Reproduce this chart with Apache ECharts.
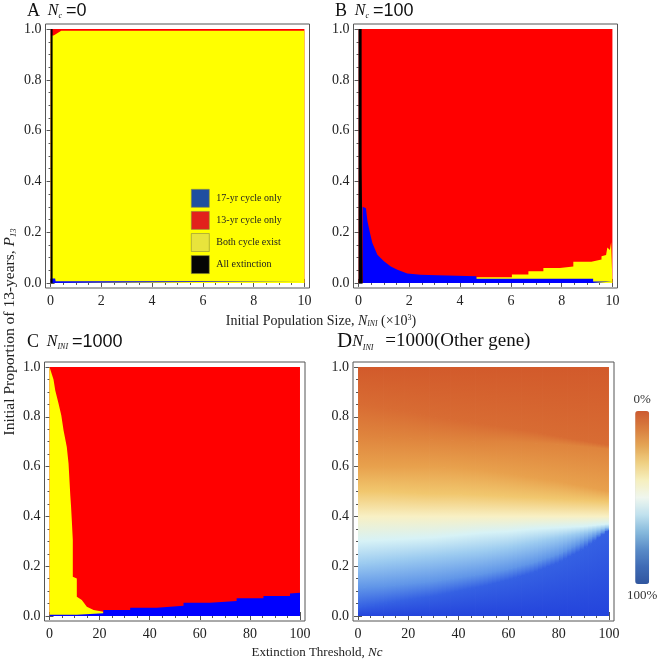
<!DOCTYPE html>
<html>
<head>
<meta charset="utf-8">
<script src="https://cdn.jsdelivr.net/npm/echarts@6/dist/echarts.min.js"></script>
<style>
  html, body { margin: 0; background: #fff; }
  #chart { width: 661px; height: 662px; }
</style>
</head>
<body>
<div id="chart"></div>
<script>
const serif = '"Liberation Serif", "DejaVu Serif", serif';
const sans = '"Liberation Sans", "DejaVu Sans", sans-serif';

// tick labels
const popTicks = [0, 2, 4, 6, 8, 10];
const thrTicks = [0, 20, 40, 60, 80, 100];
const propTicks = [0, 0.2, 0.4, 0.6, 0.8, 1.0];

const regionNames = ["17-yr cycle only", "13-yr cycle only", "Both cycle exist", "All extinction"];
const regionColors = ["#0000ff", "#ff0000", "#ffff00", "#000000"];
const legendColors = ["#1f4fa0", "#e2201c", "#e8e43c", "#050505"];

// upper edge [x, P13] of each region, drawn back to front: 13-yr, both, 17-yr, extinction
// A: Nc = 0
const aRed = [[0, 1], [10, 1]];
const aBoth = [[0, 0.975], [0.12, 0.975], [0.42, 0.993], [10, 0.993]];
const a17 = [[0, 0.017], [0.18, 0.017], [0.2, 0.007], [10, 0.007]];
const aNone = [[0, 1], [0.08, 1]];

// B: Nc = 100
const bRed = [[0, 1], [10, 1]];
const bBoth = [[4.64, 0.022], [6.04, 0.022], [6.04, 0.033], [6.69, 0.033], [6.69, 0.046], [7.28, 0.046],
  [7.28, 0.059], [7.93, 0.059], [7.93, 0.065], [8.46, 0.065], [8.46, 0.083], [9.17, 0.083], [9.17, 0.088],
  [9.57, 0.092], [9.57, 0.105], [9.75, 0.11], [9.8, 0.14], [9.9, 0.13], [9.95, 0.16], [10, 0.164]];
const b17 = [[0.16, 0.30], [0.29, 0.294], [0.35, 0.243], [0.45, 0.197], [0.54, 0.158], [0.74, 0.111],
  [1.0, 0.085], [1.27, 0.065], [1.53, 0.052], [1.92, 0.037], [2.44, 0.032], [3.1, 0.03], [3.1, 0.026],
  [4.64, 0.026], [4.64, 0.016], [9.24, 0.016], [9.24, 0.006], [10, 0.006]];
const bNone = [[0, 1], [0.12, 1], [0.12, 0.472], [0.16, 0.472]];

// C: N_INI = 1000
const cRed = [[0, 1], [100, 1]];
const cBoth = [[0, 1], [0.5, 1], [1.6, 0.95], [2.3, 0.906], [3.6, 0.853], [4.7, 0.806], [5.6, 0.746],
  [6.9, 0.679], [7.6, 0.612], [8.3, 0.485], [8.6, 0.44], [8.9, 0.385], [9.3, 0.305], [9.3, 0.158],
  [10.9, 0.151], [10.9, 0.077], [12.9, 0.064], [14.9, 0.037], [17.6, 0.024], [21.5, 0.017]];
const c17 = [[0, 0.005], [10.9, 0.005], [10.9, 0.011], [21.5, 0.011], [21.5, 0.024], [32.2, 0.024],
  [32.2, 0.033], [42.8, 0.033], [42.8, 0.041], [53.5, 0.041], [53.5, 0.053], [64.1, 0.053], [64.1, 0.06],
  [74.7, 0.06], [74.7, 0.071], [85.4, 0.071], [85.4, 0.08], [96, 0.08], [96, 0.09], [100, 0.093]];

// D: P13 of each contour of the share (%) at these Nc values, 0% at the top, 100% at the bottom
const dX = [0, 10, 20, 30, 40, 50, 60, 70, 80, 90, 100];
const dLevels = [0, 10, 20, 30, 40, 50, 60, 70, 80, 90, 100];
const dL0 = [1, 1, 1, 1, 1, 1, 1, 1, 1, 1, 1];
const dL10 = [0.85, 0.835, 0.82, 0.80, 0.785, 0.77, 0.755, 0.74, 0.72, 0.703, 0.686];
const dL20 = [0.725, 0.72, 0.715, 0.71, 0.705, 0.70, 0.70, 0.695, 0.69, 0.68, 0.67];
const dL30 = [0.60, 0.60, 0.60, 0.60, 0.595, 0.585, 0.57, 0.555, 0.54, 0.52, 0.50];
const dL40 = [0.50, 0.50, 0.495, 0.49, 0.49, 0.485, 0.48, 0.475, 0.47, 0.465, 0.46];
const dL50 = [0.40, 0.40, 0.40, 0.40, 0.40, 0.40, 0.40, 0.40, 0.40, 0.40, 0.40];
const dL60 = [0.30, 0.305, 0.31, 0.315, 0.325, 0.335, 0.34, 0.35, 0.355, 0.36, 0.37];
const dL70 = [0.21, 0.22, 0.23, 0.24, 0.25, 0.26, 0.275, 0.295, 0.315, 0.335, 0.358];
const dL80 = [0.115, 0.12, 0.13, 0.14, 0.155, 0.17, 0.19, 0.215, 0.25, 0.30, 0.35];
const dL90 = [0.035, 0.05, 0.065, 0.08, 0.10, 0.12, 0.145, 0.175, 0.215, 0.27, 0.345];
const dL100 = [0, 0, 0, 0, 0, 0, 0, 0, 0, 0, 0];
const dColors = ["#d25a2b", "#d86c33", "#df843d", "#e8a14d", "#f1c76e", "#f8f0c4",
  "#d7f2f6", "#9ccbf0", "#6196e8", "#3561e3", "#2444dc"];
const barColors = ["#30569f", "#3f6bb5", "#5a8cc8", "#86b9dc", "#c0e1ee", "#eff6ee",
  "#f6efbe", "#efd083", "#e4a555", "#d97d3e", "#cc5a30"];

const frame = { show: true, borderColor: "#555", borderWidth: 1 };
const grids = [
  { left: 45.5, top: 24, width: 264, height: 264, ...frame },
  { left: 353.5, top: 24, width: 264, height: 264, ...frame },
  { left: 44.5, top: 362, width: 260.5, height: 259, ...frame },
  { left: 353, top: 362, width: 261, height: 259, ...frame },
];

function minorsOf(ticks) {
  const out = [];
  const step = (ticks[1] - ticks[0]) / 4;
  for (let i = 0; i < ticks.length - 1; i++)
    for (let k = 1; k < 4; k++) out.push(+(ticks[i] + k * step).toFixed(4));
  return out;
}

function axisSet(dim, gi, range, ticks, fmt) {
  const minors = minorsOf(ticks);
  const pos = dim === "x" ? ["bottom", "top"] : ["left", "right"];
  const tick = (vals, len) => ({ show: true, inside: true, length: len, customValues: vals,
    lineStyle: { color: "#555", width: 1 } });
  const base = { type: "value", gridIndex: gi, min: range[0], max: range[1],
    splitLine: { show: false }, axisLine: { show: false } };
  const label = { show: true, customValues: ticks, formatter: fmt, fontFamily: serif, fontSize: 14,
    color: "#222", margin: dim === "x" ? 6 : 4 };
  return [
    { ...base, position: pos[0], axisTick: tick(ticks, 4), axisLabel: label },
    { ...base, position: pos[0], axisTick: tick(minors, 2), axisLabel: { show: false } },
    { ...base, position: pos[1], axisTick: tick(ticks, 4), axisLabel: { show: false } },
    { ...base, position: pos[1], axisTick: tick(minors, 2), axisLabel: { show: false } },
  ];
}

const intFmt = (v) => String(Math.round(v));
const decFmt = (v) => v.toFixed(1);
const xAxis = [
  ...axisSet("x", 0, [-0.2, 10.2], popTicks, intFmt),
  ...axisSet("x", 1, [-0.2, 10.2], popTicks, intFmt),
  ...axisSet("x", 2, [-2, 102], thrTicks, intFmt),
  ...axisSet("x", 3, [-2, 102], thrTicks, intFmt),
];
const yAxis = [0, 1, 2, 3].flatMap((gi) => axisSet("y", gi, [-0.02, 1.02], propTicks, decFmt));

function region(gi, idx, data) {
  return {
    name: regionNames[idx], type: "line", xAxisIndex: gi * 4, yAxisIndex: gi * 4, data,
    symbol: "none", silent: true, lineStyle: { width: 0 },
    itemStyle: { color: regionColors[idx] },
    areaStyle: { color: regionColors[idx], opacity: 1 },
  };
}

const series = [
  region(0, 1, aRed), region(0, 2, aBoth), region(0, 0, a17), region(0, 3, aNone),
  region(1, 1, bRed), region(1, 2, bBoth), region(1, 0, b17), region(1, 3, bNone),
  region(2, 1, cRed), region(2, 2, cBoth), region(2, 0, c17),
];

// D: every band between two neighbouring contours, cut into strips between Nc samples;
// each strip is painted in thin columns shaded from the upper level colour to the lower one.
// Columns overlap the next one by a fraction of a pixel so no white seams show.
const dCurves = [dL0, dL10, dL20, dL30, dL40, dL50, dL60, dL70, dL80, dL90, dL100];
const nStrip = dX.length - 1;
const nCol = 6;
const seam = 0.8;
const dCells = [];
for (let k = 0; k < dCurves.length - 1; k++)
  for (let i = 0; i < nStrip; i++) dCells.push([dX[i], dLevels[k]]);

const lerp = (a, b, t) => [a[0] + (b[0] - a[0]) * t, a[1] + (b[1] - a[1]) * t];

series.push({
  name: "share", type: "custom", xAxisIndex: 12, yAxisIndex: 12, silent: true,
  data: dCells, encode: { x: 0, y: 1 },
  renderItem(params, api) {
    const k = Math.floor(params.dataIndex / nStrip);
    const i = params.dataIndex % nStrip;
    const up = dCurves[k], lo = dCurves[k + 1];
    const p1 = api.coord([dX[i], up[i]]), p2 = api.coord([dX[i + 1], up[i + 1]]);
    const p3 = api.coord([dX[i + 1], lo[i + 1]]), p4 = api.coord([dX[i], lo[i]]);
    const lastRow = k === dCurves.length - 2, lastCol = i === nStrip - 1;
    const children = [];
    for (let j = 0; j < nCol; j++) {
      const t0 = j / nCol, t1 = (j + 1) / nCol;
      const a = lerp(p1, p2, t0), b = lerp(p1, p2, t1);
      const c = lerp(p4, p3, t1), d = lerp(p4, p3, t0);
      const mx = (a[0] + b[0]) / 2;
      const grad = new echarts.graphic.LinearGradient(mx, (a[1] + b[1]) / 2, mx, (c[1] + d[1]) / 2 + 0.01, [
        { offset: 0, color: dColors[k] }, { offset: 1, color: dColors[k + 1] },
      ], true);
      const dx = lastCol && j === nCol - 1 ? 0 : seam;
      const dy = lastRow ? 0 : seam;
      children.push({ type: "polygon", shape: {
        points: [a, [b[0] + dx, b[1]], [c[0] + dx, c[1] + dy], [d[0], d[1] + dy]] },
        style: { fill: grad } });
    }
    return { type: "group", children };
  },
});
series.push({ name: "scale", type: "scatter", xAxisIndex: 12, yAxisIndex: 12, data: [] });

const titleRich = {
  l: { fontFamily: serif, fontSize: 18, color: "#111" },
  d: { fontFamily: serif, fontSize: 21, color: "#111" },
  n: { fontFamily: serif, fontStyle: "italic", fontSize: 16, color: "#111" },
  s: { fontFamily: serif, fontStyle: "italic", fontSize: 8, color: "#111", verticalAlign: "bottom" },
  e: { fontFamily: sans, fontSize: 18, color: "#111" },
  g: { fontFamily: serif, fontSize: 19, color: "#111" },
};
const titleStyle = { fontSize: 14, fontWeight: "normal", rich: titleRich };

function labRich(size) {
  return {
    t: { fontFamily: serif, fontSize: size, fill: "#222" },
    i: { fontFamily: serif, fontStyle: "italic", fontSize: size, fill: "#222" },
    s: { fontFamily: serif, fontStyle: "italic", fontSize: size * 0.55, fill: "#222", verticalAlign: "bottom" },
    p: { fontFamily: serif, fontSize: size * 0.58, fill: "#222", verticalAlign: "top" },
  };
}

const chart = echarts.init(document.getElementById("chart"));
chart.setOption({
  animation: false,
  backgroundColor: "#fff",
  grid: grids,
  xAxis,
  yAxis,
  series,
  title: [
    { left: 27, top: 2, padding: 0, text: "{l|A}  {n|N}{s|c} {e|=0}", textStyle: titleStyle },
    { left: 335, top: 2, padding: 0, text: "{l|B}  {n|N}{s|c} {e|=100}", textStyle: titleStyle },
    { left: 27, top: 333, padding: 0, text: "{l|C}  {n|N}{s|INI} {e|=1000}", textStyle: titleStyle },
    { left: 337, top: 331, padding: 0, text: "{d|D}{n|N}{s|INI}   {g|=1000(Other gene)}", textStyle: titleStyle },
  ],
  legend: {
    left: 191, top: 189, padding: 0, orient: "vertical", icon: "rect", itemWidth: 18, itemHeight: 18,
    itemGap: 3.5, selectedMode: false,
    textStyle: { fontFamily: serif, fontSize: 10, color: "#222", padding: [0, 0, 0, 2] },
    data: regionNames.map((name, i) => ({
      name, itemStyle: { color: legendColors[i], borderColor: "#8a8a40", borderWidth: 0.6 },
    })),
  },
  visualMap: {
    type: "continuous", seriesIndex: series.length - 1, min: 0, max: 100, calculable: false,
    orient: "vertical", left: 612, top: 378, itemWidth: 14, itemHeight: 173,
    text: ["0%", "100%"], textGap: 5,
    textStyle: { fontFamily: serif, fontSize: 13, color: "#333" },
    inRange: { color: barColors },
  },
  graphic: [
    { type: "text", x: 321, y: 321, silent: true,
      style: { text: "{t|Initial Population Size, }{i|N}{s|INI}{t| (×10}{p|3}{t|)}", align: "center",
        verticalAlign: "middle", rich: labRich(14) } },
    { type: "text", x: 317, y: 653, silent: true,
      style: { text: "{t|Extinction Threshold, }{i|Nc}", align: "center", verticalAlign: "middle", rich: labRich(13) } },
    { type: "text", x: 10, y: 332, rotation: Math.PI / 2, silent: true,
      style: { text: "{t|Initial Proportion of 13-years, }{i|P}{s|13}", align: "center",
        verticalAlign: "middle", rich: labRich(15.5) } },
  ],
});
</script>
</body>
</html>
